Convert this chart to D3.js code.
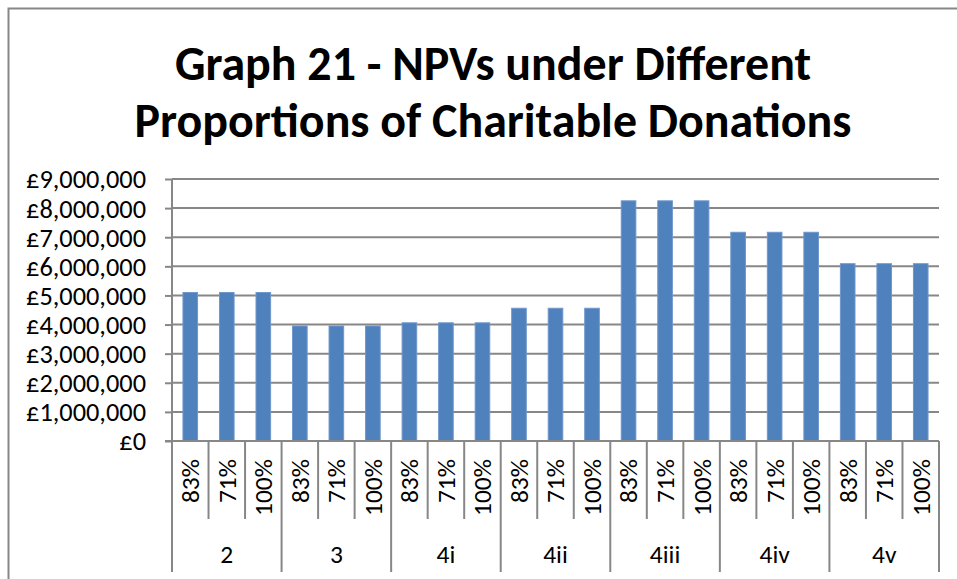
<!DOCTYPE html>
<meta charset="utf-8">
<script src="https://d3js.org/d3.v7.min.js"></script>
<style>
  body { margin: 0; background: #fff; }
</style>
<svg id="chart" width="957" height="579"></svg>
<script>

// scenario groups and the donation shares inside each
var groups = ["2", "3", "4i", "4ii", "4iii", "4iv", "4v"];
var shares = ["83%", "71%", "100%"];

// NPV for each bar, in group order (83%, 71%, 100%)
var npv = [
    5100000, 5100000, 5100000,
    3950000, 3950000, 3950000,
    4060000, 4060000, 4060000,
    4560000, 4560000, 4560000,
    8250000, 8250000, 8250000,
    7170000, 7170000, 7170000,
    6090000, 6090000, 6090000
];

var yTicks = [0, 1000000, 2000000, 3000000, 4000000, 5000000, 6000000, 7000000, 8000000, 9000000];

var titleLines = ["Graph 21 - NPVs under Different", "Proportions of Charitable Donations"];

const svg = d3.select("#chart");
const font = "Carlito, Calibri, 'Open Sans', sans-serif";

const plotLeft = 172, plotRight = 939, plotTop = 179, plotBottom = 441;

// helper: find the font size that makes a text reach a given width
function fitSize(txt, weight, target) {
    const t = svg.append("text").attr("font-family", font).attr("font-weight", weight)
        .attr("font-size", 20).text(txt);
    const w = t.node().getComputedTextLength();
    t.remove();
    return 20 * target / w;
}

// outer chart frame (runs off the right and bottom of the picture)
svg.append("rect")
    .attr("x", 8.5).attr("y", 8.5)
    .attr("width", 1000).attr("height", 1000)
    .attr("fill", "none")
    .attr("stroke", "#878787")
    .attr("stroke-width", 2);

// title
const titleSize = fitSize(titleLines[1], "bold", 717);
svg.selectAll(".title")
    .data(titleLines)
    .enter().append("text")
        .attr("class", "title")
        .attr("x", 493)
        .attr("y", (d, i) => 80 + i * 57)
        .attr("text-anchor", "middle")
        .attr("font-family", font)
        .attr("font-weight", "bold")
        .attr("font-size", titleSize)
        .text(d => d);

// scales
const keys = [];
groups.forEach(g => shares.forEach(s => keys.push(g + "|" + s)));

const x = d3.scaleBand()
    .domain(keys)
    .range([plotLeft, plotRight])
    .paddingInner(0.6)
    .paddingOuter(0.3);

const y = d3.scaleLinear()
    .domain([0, 9000000])
    .range([plotBottom, plotTop]);

// gridlines + y axis
const labelSize = fitSize("£9,000,000", "normal", 120);

const yAxis = svg.append("g")
    .attr("transform", "translate(" + plotLeft + ",0)")
    .call(d3.axisLeft(y)
        .tickValues(yTicks)
        .tickSize(7)
        .tickPadding(19)
        .tickFormat(d => "£" + d3.format(",")(d)));

yAxis.select(".domain").remove();
yAxis.selectAll(".tick line").attr("stroke", "#878787").attr("stroke-width", 2);
yAxis.selectAll(".tick text")
    .attr("font-family", font)
    .attr("font-size", labelSize)
    .attr("fill", "#000")
    .attr("dy", "0.34em");

svg.append("g")
    .selectAll("line")
    .data(yTicks)
    .enter().append("line")
        .attr("x1", plotLeft)
        .attr("x2", plotRight)
        .attr("y1", d => y(d))
        .attr("y2", d => y(d))
        .attr("stroke", "#878787")
        .attr("stroke-width", 2);

// vertical axis line
svg.append("line")
    .attr("x1", plotLeft).attr("x2", plotLeft)
    .attr("y1", plotTop).attr("y2", plotBottom)
    .attr("stroke", "#878787")
    .attr("stroke-width", 2);

// bars
svg.append("g")
    .selectAll("rect")
    .data(npv)
    .enter().append("rect")
        .attr("x", (d, i) => x(keys[i]))
        .attr("y", d => y(d))
        .attr("width", x.bandwidth())
        .attr("height", d => y(0) - y(d))
        .attr("fill", "#4f81bd")
        .attr("stroke", "#6f97cb")
        .attr("stroke-width", 1);

// category axis: separators between bars and between groups
const step = x.step();
const seps = d3.range(keys.length + 1);
svg.append("g")
    .selectAll("line")
    .data(seps)
    .enter().append("line")
        .attr("x1", i => plotLeft + i * step)
        .attr("x2", i => plotLeft + i * step)
        .attr("y1", plotBottom)
        .attr("y2", i => i % shares.length === 0 ? 572 : 519)
        .attr("stroke", "#878787")
        .attr("stroke-width", 2);

svg.append("line")
    .attr("x1", plotLeft - 7).attr("x2", plotRight)
    .attr("y1", plotBottom).attr("y2", plotBottom)
    .attr("stroke", "#878787")
    .attr("stroke-width", 2);

// share labels (rotated)
const catSize = fitSize("100%", "normal", 57);
svg.append("g")
    .selectAll("text")
    .data(keys)
    .enter().append("text")
        .attr("transform", d => "translate(" + (x(d) + x.bandwidth() / 2) + ",459) rotate(-90)")
        .attr("text-anchor", "end")
        .attr("dy", "0.35em")
        .attr("font-family", font)
        .attr("font-size", catSize)
        .text(d => d.split("|")[1]);

// group labels
svg.append("g")
    .selectAll("text")
    .data(groups)
    .enter().append("text")
        .attr("x", (d, i) => plotLeft + (i + 0.5) * shares.length * step)
        .attr("y", 563)
        .attr("text-anchor", "middle")
        .attr("font-family", font)
        .attr("font-size", catSize)
        .text(d => d);

</script>
